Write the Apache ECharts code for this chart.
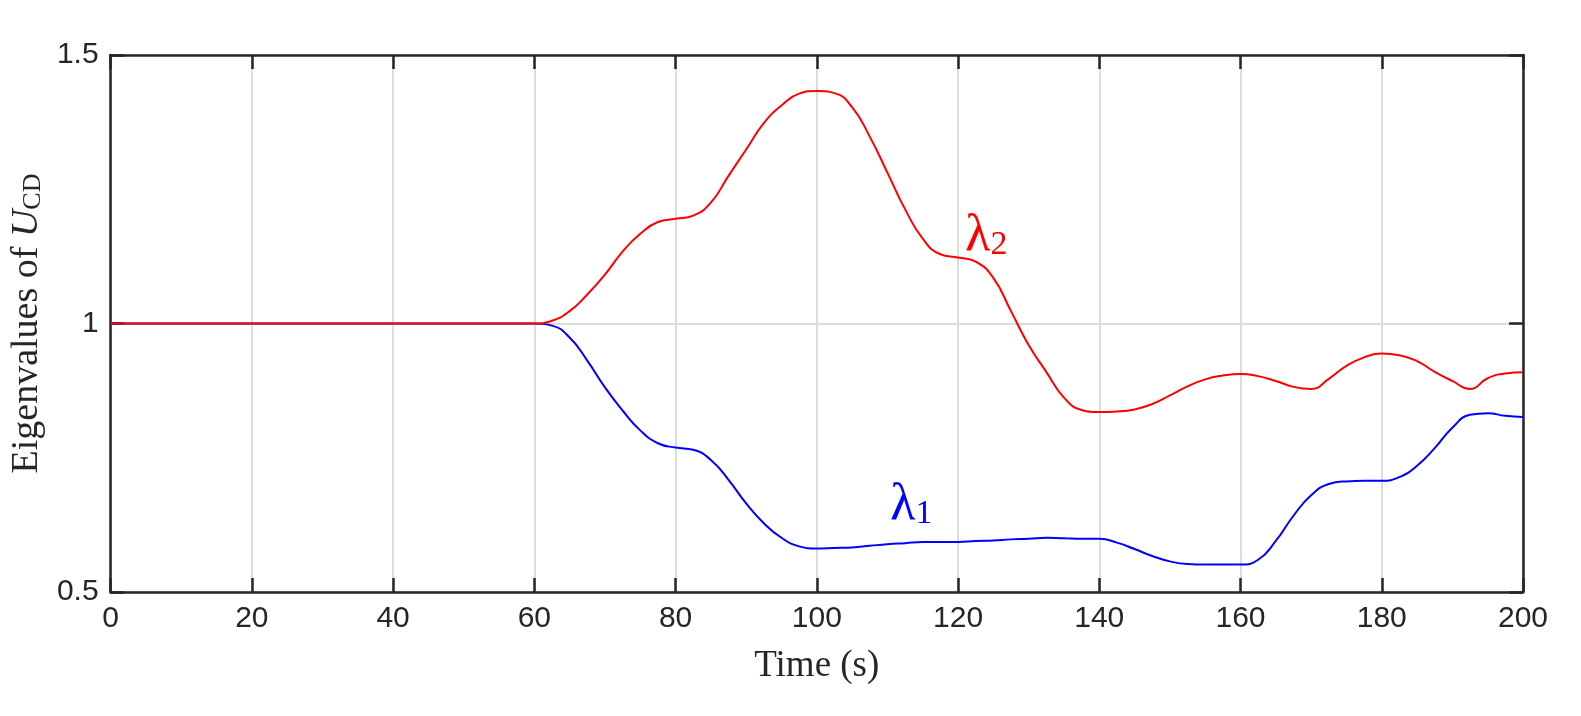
<!DOCTYPE html>
<html>
<head>
<meta charset="utf-8">
<script src="https://cdn.jsdelivr.net/npm/echarts@6/dist/echarts.min.js"></script>
<style>
html,body{margin:0;padding:0;background:#fff;}
#chart{width:1581px;height:716px;}
</style>
</head>
<body>
<div id="chart"></div>
<script>
const time = [0, 20, 40, 60, 62.5, 65, 67.5, 70, 72.5, 75, 77.5, 80, 82.5, 85, 87.5, 90, 92.5, 95, 97.5, 100,
  102.5, 105, 107.5, 110, 112.5, 115, 117.5, 120, 122.5, 125, 127.5, 130, 132.5, 135, 137.5, 140,
  142.5, 145, 147.5, 150, 152.5, 155, 157.5, 160, 162.5, 165, 167.5, 170, 172.5, 175, 177.5, 180,
  182.5, 185, 187.5, 190, 192.5, 195, 197.5, 200];
const lambda2 = [1, 1, 1, 1, 1.005, 1.023, 1.054, 1.091, 1.134, 1.167, 1.189, 1.195, 1.201, 1.225, 1.275, 1.324, 1.373, 1.406, 1.428, 1.433,
  1.429, 1.403, 1.348, 1.281, 1.213, 1.158, 1.129, 1.123, 1.115, 1.085, 1.023, 0.960, 0.910, 0.862, 0.839, 0.835,
  0.836, 0.840, 0.850, 0.866, 0.883, 0.896, 0.903, 0.906, 0.902, 0.893, 0.882, 0.878, 0.897, 0.921, 0.937, 0.944,
  0.941, 0.930, 0.910, 0.893, 0.878, 0.898, 0.907, 0.909];
const lambda1 = [1, 1, 1, 1, 0.996, 0.974, 0.931, 0.881, 0.838, 0.801, 0.777, 0.769, 0.765, 0.746, 0.709, 0.665, 0.628, 0.601, 0.585, 0.581,
  0.582, 0.583, 0.586, 0.589, 0.591, 0.593, 0.593, 0.593, 0.595, 0.596, 0.598, 0.599, 0.601, 0.600, 0.599, 0.599,
  0.592, 0.580, 0.567, 0.557, 0.552, 0.551, 0.551, 0.551, 0.560, 0.595, 0.642, 0.680, 0.701, 0.706, 0.707, 0.707,
  0.714, 0.735, 0.768, 0.806, 0.830, 0.833, 0.828, 0.826];
const xTicks = {min: 0, max: 200, interval: 20};
const yTicks = {min: 0.5, max: 1.5, interval: 0.5};
const label1 = {x: 113.4, y: 0.662, idx: '1'};
const label2 = {x: 124.0, y: 1.163, idx: '2'};

const toPairs = (vals) => time.map((t, i) => [t, vals[i]]);
const serif = "'Liberation Serif', 'DejaVu Serif', serif";
const sans = "'Liberation Sans', Arial, sans-serif";
const axisColor = '#262626';

function lamLabel(lbl, color) {
  return {
    symbol: 'circle', symbolSize: 0, silent: true,
    data: [{coord: [lbl.x, lbl.y], value: lbl.idx}],
    label: {
      show: true, position: 'inside',
      formatter: '{l|λ}{s|' + lbl.idx + '}',
      rich: {
        l: {fontFamily: serif, fontSize: 52, color: color},
        s: {fontFamily: serif, fontSize: 34, color: color, verticalAlign: 'bottom', padding: [18, 0, 0, 0]}
      }
    }
  };
}

const chart = echarts.init(document.getElementById('chart'));
chart.setOption({
  animation: false,
  backgroundColor: '#fff',
  grid: {left: 107, right: 58, top: 55, bottom: 124},
  xAxis: [{
    type: 'value', min: xTicks.min, max: xTicks.max, interval: xTicks.interval,
    position: 'bottom',
    name: 'Time (s)', nameLocation: 'middle', nameGap: 56,
    nameTextStyle: {fontFamily: serif, fontSize: 37, color: axisColor},
    axisLine: {show: true, onZero: false, lineStyle: {color: axisColor, width: 2.5}},
    axisTick: {show: true, inside: true, length: 14, lineStyle: {color: axisColor, width: 2.5}},
    axisLabel: {fontFamily: sans, fontSize: 30, color: axisColor, margin: 12},
    splitLine: {show: true, lineStyle: {color: '#dcdcdc', width: 2}}
  }, {
    type: 'value', min: xTicks.min, max: xTicks.max, interval: xTicks.interval,
    position: 'top',
    axisLine: {show: true, onZero: false, lineStyle: {color: axisColor, width: 2.5}},
    axisTick: {show: true, inside: true, length: 14, lineStyle: {color: axisColor, width: 2.5}},
    axisLabel: {show: false}, splitLine: {show: false}
  }],
  yAxis: [{
    type: 'value', min: yTicks.min, max: yTicks.max, interval: yTicks.interval,
    position: 'left',
    name: 'Eigenvalues of {i|U}{s|CD}', nameLocation: 'middle', nameGap: 64, nameRotate: 90,
    nameTextStyle: {
      fontFamily: serif, fontSize: 38, color: axisColor,
      rich: {
        i: {fontFamily: serif, fontStyle: 'italic', fontSize: 38, color: axisColor},
        s: {fontFamily: serif, fontSize: 26, color: axisColor, verticalAlign: 'bottom', padding: [12, 0, 0, 0]}
      }
    },
    axisLine: {show: true, onZero: false, lineStyle: {color: axisColor, width: 2.5}},
    axisTick: {show: true, inside: true, length: 14, lineStyle: {color: axisColor, width: 2.5}},
    axisLabel: {fontFamily: sans, fontSize: 30, color: axisColor, margin: 12},
    splitLine: {show: true, lineStyle: {color: '#dcdcdc', width: 2}}
  }, {
    type: 'value', min: yTicks.min, max: yTicks.max, interval: yTicks.interval,
    position: 'right',
    axisLine: {show: true, onZero: false, lineStyle: {color: axisColor, width: 2.5}},
    axisTick: {show: true, inside: true, length: 14, lineStyle: {color: axisColor, width: 2.5}},
    axisLabel: {show: false}, splitLine: {show: false}
  }],
  series: [{
    name: 'λ1', type: 'line', data: toPairs(lambda1), smooth: 0.5,
    showSymbol: false, symbol: 'none',
    lineStyle: {color: '#0000ff', width: 2}, itemStyle: {color: '#0000ff'},
    markPoint: lamLabel(label1, '#0000ff')
  }, {
    name: 'λ2', type: 'line', data: toPairs(lambda2), smooth: 0.5,
    showSymbol: false, symbol: 'none',
    lineStyle: {color: '#ff0000', width: 2}, itemStyle: {color: '#ff0000'},
    markPoint: lamLabel(label2, '#ff0000')
  }]
});
</script>
</body>
</html>
